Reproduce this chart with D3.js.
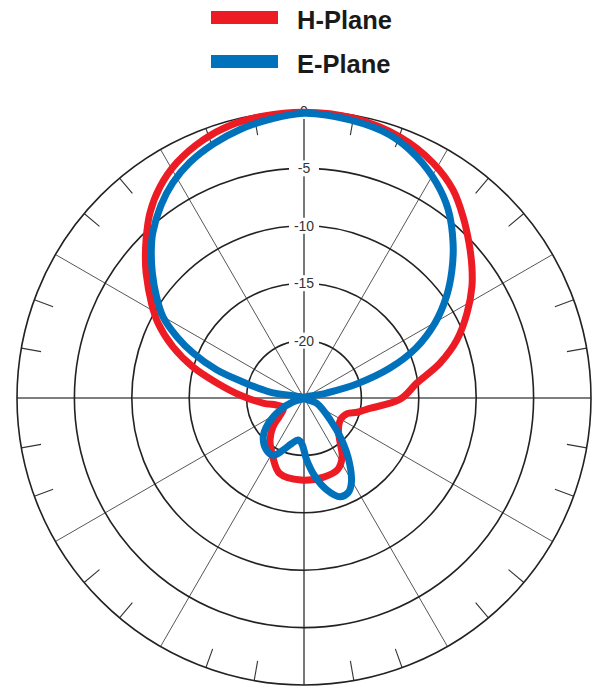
<!DOCTYPE html>
<html>
<head>
<meta charset="utf-8">
<script src="https://cdn.jsdelivr.net/npm/d3@7"></script>
<style>
  html, body { margin: 0; padding: 0; background: #fff; }
  svg { display: block; }
</style>
</head>
<body>
<svg id="chart" width="597" height="687"></svg>
<script>
// ---- data (angle in degrees clockwise from top, gain in dB) ----
const seriesNames = ["H-Plane", "E-Plane"];
const seriesColors = ["#ED1C24", "#0072BC"];

const hAngles = [0, 9.9, 20.2, 28.8, 35.6, 41.3, 46.8, 52, 56.5, 62.5, 69.2, 75.6, 82.4, 90.6, 99.9, 105, 110, 121, 133, 141, 147, 155, 166, 182, 198, 208, 219, 227, 233, 240, 245, 250, 256, 263, 272.7, 279.8, 285.6, 291.3, 297.2, 301.7, 308.4, 311.4, 315.2, 320.2, 325.7, 331.6, 338.6, 344.8, 351.7];
const hValues = [-0.1, -0.24, -0.78, -1.65, -2.7, -4.0, -5.28, -6.44, -7.46, -8.99, -10.75, -12.77, -15.07, -16.6, -19.4, -20.2, -21.0, -21.3, -20.9, -20.0, -18.9, -18.1, -17.9, -17.85, -18.1, -19.2, -20.3, -21.3, -22.3, -22.9, -23.0, -22.9, -22.5, -21.4, -19.4, -17.3, -14.96, -12.75, -10.7, -9.4, -7.45, -6.58, -5.48, -4.03, -2.74, -1.7, -0.87, -0.4, -0.2];

const eAngles = [0, 9.4, 18.1, 25, 31.7, 37.5, 43.9, 49.1, 54.4, 60.2, 65.9, 70.8, 75.1, 77.6, 90, 112.6, 130, 138, 145, 151, 155, 160, 166, 172, 177.5, 183, 188, 195, 202, 208, 215.6, 226.4, 234.7, 243.4, 251, 263, 280, 284.7, 287.8, 292.1, 295.7, 299.9, 304.4, 309.6, 314.2, 317.5, 323.4, 328.6, 334.1, 340.4, 346.6, 353];
const eValues = [-0.2, -0.45, -0.9, -1.8, -3.01, -4.35, -6.27, -7.95, -9.72, -11.85, -14.3, -17.07, -20.25, -23.0, -25, -23.8, -22.0, -20.1, -18.1, -16.5, -15.9, -15.85, -16.75, -18.1, -19.6, -21.05, -21.3, -20.9, -20.1, -19.35, -19.4, -20.1, -21.2, -22.7, -24.0, -25, -22.0, -19.5, -17.04, -14.56, -12.73, -10.84, -9.44, -7.85, -6.45, -5.5, -4.1, -3.05, -2.2, -1.5, -0.95, -0.55];

const ringValues = [-20, -15, -10, -5, 0];
const ringLabels = ["-20", "-15", "-10", "-5", "0"];
const spokeAngles = [0, 30, 60, 90, 120, 150, 180, 210, 240, 270, 300, 330];
const tickAngles = d3.range(0, 360, 10).filter(a => a % 30 !== 0);

// ---- layout ----
const cx = 304, cy = 398, R = 287;
const svg = d3.select("#chart");
const r = d3.scaleLinear().domain([-25, 0]).range([0, R]).clamp(true);
const rad = d => d * Math.PI / 180;

const g = svg.append("g").attr("transform", `translate(${cx},${cy})`);

// spokes
g.selectAll("line.spoke").data(spokeAngles).join("line")
  .attr("class", "spoke")
  .attr("x1", 0).attr("y1", 0)
  .attr("x2", a => R * Math.sin(rad(a)))
  .attr("y2", a => -R * Math.cos(rad(a)))
  .attr("stroke", a => (a % 90 === 0) ? "#555" : "#444")
  .attr("stroke-width", a => (a % 90 === 0) ? 1.6 : 0.9);

// outer ticks
g.selectAll("line.tick").data(tickAngles).join("line")
  .attr("class", "tick")
  .attr("x1", a => R * Math.sin(rad(a)))
  .attr("y1", a => -R * Math.cos(rad(a)))
  .attr("x2", a => (R - 20) * Math.sin(rad(a)))
  .attr("y2", a => -(R - 20) * Math.cos(rad(a)))
  .attr("stroke", "#333").attr("stroke-width", 1.1);

// rings
g.selectAll("circle.ring").data(ringValues).join("circle")
  .attr("class", "ring")
  .attr("r", d => r(d))
  .attr("fill", "none")
  .attr("stroke", "#222")
  .attr("stroke-width", 1.6);

// ring labels with white backgrounds
const lab = g.selectAll("g.lab").data(ringValues).join("g")
  .attr("class", "lab")
  .attr("transform", d => `translate(0,${-r(d)})`);
lab.append("rect")
  .attr("x", -15).attr("y", -8).attr("width", 30).attr("height", 16)
  .attr("fill", "#fff");
lab.append("text")
  .attr("text-anchor", "middle")
  .attr("dy", "0.36em")
  .attr("font-family", "Liberation Sans, Arial, sans-serif")
  .attr("font-size", 14)
  .attr("fill", "#333")
  .text((d, i) => ringLabels[i]);

// curves
const line = d3.lineRadial()
  .angle(d => rad(d[0]))
  .radius(d => r(d[1]))
  .curve(d3.curveCatmullRomClosed.alpha(0.5));

const hData = hAngles.map((a, i) => [a, hValues[i]]);
const eData = eAngles.map((a, i) => [a, eValues[i]]);

g.append("path").datum(hData)
  .attr("d", line)
  .attr("fill", "none")
  .attr("stroke", seriesColors[0])
  .attr("stroke-width", 7)
  .attr("stroke-linejoin", "round");

g.append("path").datum(eData)
  .attr("d", line)
  .attr("fill", "none")
  .attr("stroke", seriesColors[1])
  .attr("stroke-width", 7)
  .attr("stroke-linejoin", "round");

// legend
const leg = svg.append("g");
const legY = [17.5, 61.5];
seriesNames.forEach((name, i) => {
  leg.append("line")
    .attr("x1", 211).attr("x2", 278)
    .attr("y1", legY[i]).attr("y2", legY[i])
    .attr("stroke", seriesColors[i])
    .attr("stroke-width", 13);
  leg.append("text")
    .attr("x", 297).attr("y", legY[i] + 11.8)
    .attr("font-family", "Liberation Sans, Arial, sans-serif")
    .attr("font-weight", "bold")
    .attr("font-size", 25.5)
    .attr("fill", "#1a1a1a")
    .text(name);
});
</script>
</body>
</html>
